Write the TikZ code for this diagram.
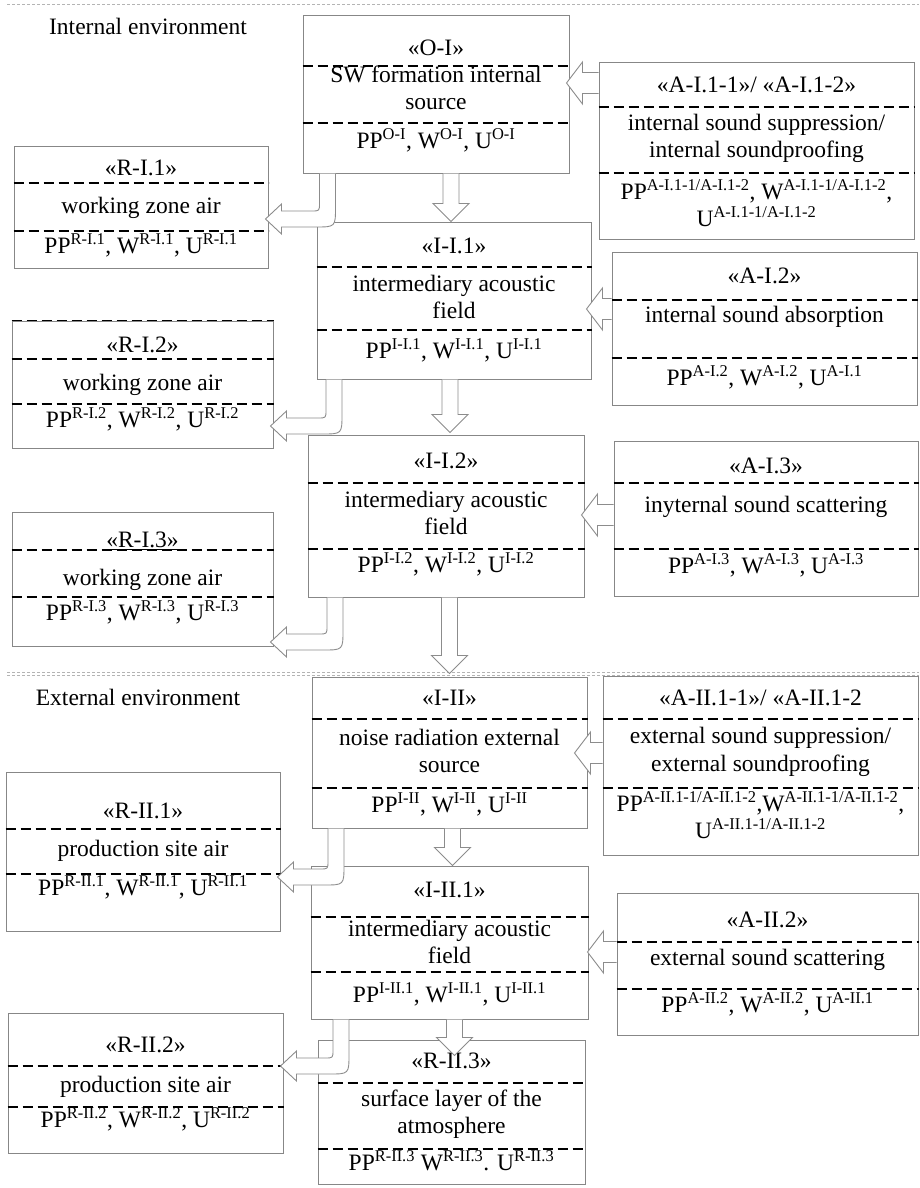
\documentclass[tikz,border=0pt]{standalone}
\usepackage{fontspec}
\setmainfont{Liberation Serif}
\usepackage{tikz}
\usetikzlibrary{positioning,calc,fit}

\definecolor{boxgray}{RGB}{135,135,135}
\definecolor{arrowgray}{RGB}{140,140,140}
\definecolor{framegray}{RGB}{180,180,180}

\newcommand{\sps}[1]{\textsuperscript{#1}}
% block arrows between the boxes
\newcommand{\downblock}[2]{%
  \coordinate (tip) at #2;
  \coordinate (top) at (#1.south -| tip);
  \path[blockarrow] ($(top)+(-8,0)$) -- ($(tip)+(-8,-18)$) -- ($(tip)+(-18,-18)$) -- (tip)
    -- ($(tip)+(18,-18)$) -- ($(tip)+(8,-18)$) -- ($(top)+(8,0)$);}
\newcommand{\sideblock}[4]{%
  \coordinate (tip) at ($(#2.east |- 0,#3)+(-#4,0)$);
  \coordinate (tail) at (#1.west |- tip);
  \path[blockarrow] ($(tail)+(0,-10.5)$) -- ($(tip)+(16,-10.5)$) -- ($(tip)+(16,-21)$) -- (tip)
    -- ($(tip)+(16,21)$) -- ($(tip)+(16,10.5)$) -- ($(tail)+(0,10.5)$);}
\newcommand{\bendblock}[4]{%
  \coordinate (bend) at (#3,#4);
  \coordinate (top) at (#1.south -| bend);
  \coordinate (tip) at ($(#2.east |- bend)+(-3,0)$);
  \path[blockarrow] ($(top)+(-8,0)$) -- ($(bend)+(-8,-16)$) .. controls ($(bend)+(-8,-8)$) .. ($(bend)+(-16,-8)$)
    -- ($(tip)+(16,-8)$) -- ($(tip)+(16,-15)$) -- (tip) -- ($(tip)+(16,15)$) -- ($(tip)+(16,8)$)
    -- ($(bend)+(-12,8)$) .. controls ($(bend)+(8,8)$) .. ($(bend)+(8,-12)$) -- ($(top)+(8,0)$);}

\begin{document}
\begin{tikzpicture}[x=1pt,y=-1pt,
  unit/.style={rectangle,draw=boxgray,line width=1pt,inner sep=0pt},
  lbl/.style={font={\fontsize{23.5}{27.5}\selectfont},inner sep=0pt,text height=16pt,text depth=5pt},
  lbls/.style={font={\fontsize{23.5}{27.5}\selectfont},inner sep=0pt,align=center},
  splitline/.style={line width=1.5pt,dash pattern=on 10pt off 5pt},
  frameline/.style={draw=framegray,line width=1pt,dash pattern=on 3pt off 2pt},
  blockarrow/.style={draw=arrowgray,fill=white,line width=0.9pt}]

  \useasboundingbox (0,0) rectangle (919,1188);

  % Internal environment
  \draw[frameline] (7,5) -- (919,5);
  \node[lbl] (IntEnv) at (148,29) {Internal environment};

  \node[unit,fit={(303,16) (569,173)}] (OI) {};
  \node[lbl] (OIt) at (436,50) {«O-I»};
  \draw[splitline] (OI.west |- 0,66) -- (OI.east |- 0,66);
  \node[lbls] (OIb) at (436,88) {SW formation internal\\source};
  \draw[splitline] (OI.west |- 0,123) -- (OI.east |- 0,123);
  \node[lbl] (OIp) at (436,143) {PP\sps{O-I}, W\sps{O-I}, U\sps{O-I}};

  \node[unit,fit={(14,146) (268,268)}] (RI1) {};
  \node[lbl] (RI1t) at (141,170) {«R-I.1»};
  \draw[splitline] (RI1.west |- 0,183) -- (RI1.east |- 0,183);
  \node[lbl] (RI1b) at (141,208) {working zone air};
  \draw[splitline] (RI1.west |- 0,231) -- (RI1.east |- 0,231);
  \node[lbl] (RI1p) at (141,248) {PP\sps{R-I.1}, W\sps{R-I.1}, U\sps{R-I.1}};

  \node[unit,fit={(599,63) (914,239)}] (AI1) {};
  \node[lbl] (AI1t) at (756.5,87) {«A-I.1-1»/ «A-I.1-2»};
  \draw[splitline] (AI1.west |- 0,107) -- (AI1.east |- 0,107);
  \node[lbls] (AI1b) at (756.5,138.5) {internal sound suppression/\\internal soundproofing};
  \draw[splitline] (AI1.west |- 0,173) -- (AI1.east |- 0,173);
  \node[lbls] (AI1p) at (756.5,203) {PP\sps{A-I.1-1/A-I.1-2}, W\sps{A-I.1-1/A-I.1-2},\\U\sps{A-I.1-1/A-I.1-2}};

  \node[unit,fit={(317,222) (591,379)}] (II1) {};
  \node[lbl] (II1t) at (454,248) {«I-I.1»};
  \draw[splitline] (II1.west |- 0,267) -- (II1.east |- 0,267);
  \node[lbls] (II1b) at (454,297) {intermediary acoustic\\field};
  \draw[splitline] (II1.west |- 0,330) -- (II1.east |- 0,330);
  \node[lbl] (II1p) at (454,353) {PP\sps{I-I.1}, W\sps{I-I.1}, U\sps{I-I.1}};

  \node[unit,fit={(612,252) (917,405)}] (AI2) {};
  \node[lbl] (AI2t) at (764.5,278) {«A-I.2»};
  \draw[splitline] (AI2.west |- 0,300) -- (AI2.east |- 0,300);
  \node[lbl] (AI2b) at (764.5,317) {internal sound absorption};
  \draw[splitline] (AI2.west |- 0,358) -- (AI2.east |- 0,358);
  \node[lbl] (AI2p) at (764.5,380) {PP\sps{A-I.2}, W\sps{A-I.2}, U\sps{A-I.1}};

  \node[unit,fit={(12,321) (273,448)}] (RI2) {};
  \draw[splitline] (RI2.north west) -- (RI2.north east);
  \node[lbl] (RI2t) at (142.5,347) {«R-I.2»};
  \draw[splitline] (RI2.west |- 0,359) -- (RI2.east |- 0,359);
  \node[lbl] (RI2b) at (142.5,385) {working zone air};
  \draw[splitline] (RI2.west |- 0,404) -- (RI2.east |- 0,404);
  \node[lbl] (RI2p) at (142.5,422) {PP\sps{R-I.2}, W\sps{R-I.2}, U\sps{R-I.2}};

  \node[unit,fit={(308,435) (584,597)}] (II2) {};
  \node[lbl] (II2t) at (446,463) {«I-I.2»};
  \draw[splitline] (II2.west |- 0,483) -- (II2.east |- 0,483);
  \node[lbls] (II2b) at (446,513) {intermediary acoustic\\field};
  \draw[splitline] (II2.west |- 0,549) -- (II2.east |- 0,549);
  \node[lbl] (II2p) at (446,567) {PP\sps{I-I.2}, W\sps{I-I.2}, U\sps{I-I.2}};

  \node[unit,fit={(614,441) (918,596)}] (AI3) {};
  \node[lbl] (AI3t) at (766,468) {«A-I.3»};
  \draw[splitline] (AI3.west |- 0,483) -- (AI3.east |- 0,483);
  \node[lbl] (AI3b) at (766,507) {inyternal sound scattering};
  \draw[splitline] (AI3.west |- 0,549) -- (AI3.east |- 0,549);
  \node[lbl] (AI3p) at (766,568) {PP\sps{A-I.3}, W\sps{A-I.3}, U\sps{A-I.3}};

  \node[unit,fit={(12,512) (273,646)}] (RI3) {};
  \node[lbl] (RI3t) at (142.5,542) {\underline{«R-I.3»}};
  \draw[splitline] (RI3.west |- 0,550) -- (RI3.east |- 0,550);
  \node[lbl] (RI3b) at (142.5,580) {working zone air};
  \draw[splitline] (RI3.west |- 0,597) -- (RI3.east |- 0,597);
  \node[lbl] (RI3p) at (142.5,615) {PP\sps{R-I.3}, W\sps{R-I.3}, U\sps{R-I.3}};

  % External environment
  \draw[frameline] (7,672) -- (919,672);
  \draw[frameline] (7,675) -- (919,675);
  \node[lbl] (ExtEnv) at (138,700) {External environment};

  \node[unit,fit={(312,677) (587,828)}] (III) {};
  \node[lbl] (IIIt) at (449.5,700) {«I-II»};
  \draw[splitline] (III.west |- 0,719) -- (III.east |- 0,719);
  \node[lbls] (IIIb) at (449.5,751) {noise radiation external\\source};
  \draw[splitline] (III.west |- 0,788) -- (III.east |- 0,788);
  \node[lbl] (IIIp) at (449.5,807) {PP\sps{I-II}, W\sps{I-II}, U\sps{I-II}};

  \node[unit,fit={(603,676) (918,855)}] (AII1) {};
  \node[lbl] (AII1t) at (760.5,700) {«A-II.1-1»/ «A-II.1-2};
  \draw[splitline] (AII1.west |- 0,719) -- (AII1.east |- 0,719);
  \node[lbls] (AII1b) at (760.5,752) {external sound suppression/\\external soundproofing};
  \draw[splitline] (AII1.west |- 0,788) -- (AII1.east |- 0,788);
  \node[lbls] (AII1p) at (760.5,815) {PP\sps{A-II.1-1/A-II.1-2},W\sps{A-II.1-1/A-II.1-2},\\U\sps{A-II.1-1/A-II.1-2}};

  \node[unit,fit={(6,772) (280,931)}] (RII1) {};
  \node[lbl] (RII1t) at (143,813) {«R-II.1»};
  \draw[splitline] (RII1.west |- 0,829) -- (RII1.east |- 0,829);
  \node[lbl] (RII1b) at (143,851) {production site air};
  \draw[splitline] (RII1.west |- 0,874) -- (RII1.east |- 0,874);
  \node[lbl] (RII1p) at (143,890) {PP\sps{R-II.1}, W\sps{R-II.1}, U\sps{R-II.1}};

  \node[unit,fit={(311,866) (588,1019)}] (III1) {};
  \node[lbl] (III1t) at (449.5,892) {«I-II.1»};
  \draw[splitline] (III1.west |- 0,917) -- (III1.east |- 0,917);
  \node[lbls] (III1b) at (449.5,942) {intermediary acoustic\\field};
  \draw[splitline] (III1.west |- 0,972) -- (III1.east |- 0,972);
  \node[lbl] (III1p) at (449.5,997) {PP\sps{I-II.1}, W\sps{I-II.1}, U\sps{I-II.1}};

  \node[unit,fit={(617,893) (918,1035)}] (AII2) {};
  \node[lbl] (AII2t) at (767.5,922) {«A-II.2»};
  \draw[splitline] (AII2.west |- 0,942) -- (AII2.east |- 0,942);
  \node[lbl] (AII2b) at (767.5,960) {external sound scattering};
  \draw[splitline] (AII2.west |- 0,989) -- (AII2.east |- 0,989);
  \node[lbl] (AII2p) at (767.5,1007) {PP\sps{A-II.2}, W\sps{A-II.2}, U\sps{A-II.1}};

  \node[unit,fit={(8,1013) (283,1153)}] (RII2) {};
  \node[lbl] (RII2t) at (145.5,1047) {«R-II.2»};
  \draw[splitline] (RII2.west |- 0,1066) -- (RII2.east |- 0,1066);
  \node[lbl] (RII2b) at (145.5,1087) {production site air};
  \draw[splitline] (RII2.west |- 0,1107) -- (RII2.east |- 0,1107);
  \node[lbl] (RII2p) at (145.5,1122) {PP\sps{R-II.2}, W\sps{R-II.2}, U\sps{R-II.2}};

  \node[unit,fit={(318,1040) (585,1184)}] (RII3) {};
  \node[lbl] (RII3t) at (451.5,1063) {«R-II.3»};
  \draw[splitline] (RII3.west |- 0,1083) -- (RII3.east |- 0,1083);
  \node[lbls] (RII3b) at (451.5,1114) {surface layer of the\\atmosphere};
  \draw[splitline] (RII3.west |- 0,1149) -- (RII3.east |- 0,1149);
  \node[lbl] (RII3p) at (451.5,1165) {PP\sps{R-II.3} W\sps{R-II.3}. U\sps{R-II.3}};

  % arrows
  \downblock{OI}{($(II1.north)+(-3,0)$)}
  \downblock{II1}{($(II2.north)+(4,-2)$)}
  \downblock{II2}{($(III.north)+(0,-3)$)}
  \downblock{III}{($(III1.north)+(3,0)$)}
  \downblock{III1}{($(RII3.north)+(3,16)$)}

  \sideblock{AI1}{OI}{83}{3}
  \sideblock{AI2}{II1}{309}{5}
  \sideblock{AI3}{II2}{515}{3}
  \sideblock{AII1}{III}{753}{13}
  \sideblock{AII2}{III1}{952}{1}

  \bendblock{OI}{RI1}{327.5}{219}
  \bendblock{II1}{RI2}{334}{426}
  \bendblock{II2}{RI3}{335}{642}
  \bendblock{III}{RII1}{336}{877}
  \bendblock{III1}{RII2}{341}{1066}

\end{tikzpicture}
\end{document}
